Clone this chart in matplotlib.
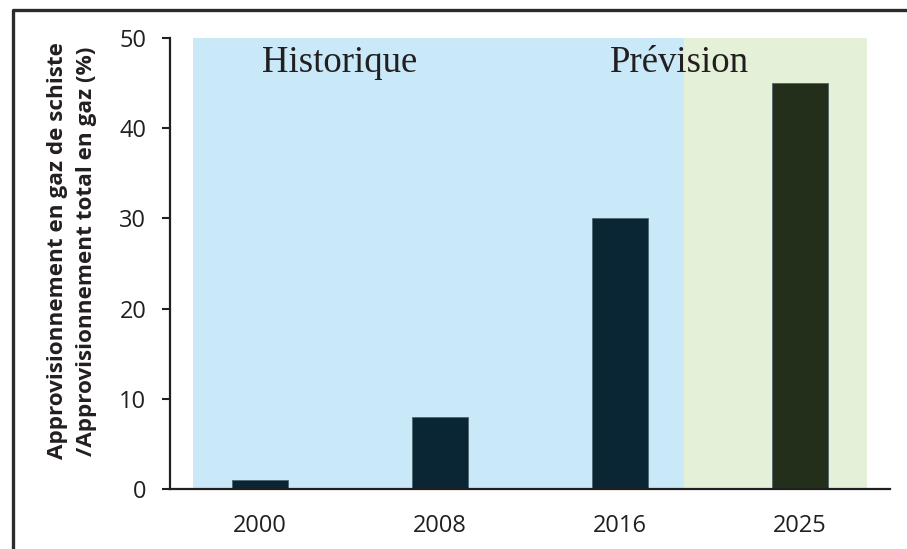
import matplotlib
matplotlib.use("Agg")
import matplotlib.pyplot as plt
from matplotlib.lines import Line2D

categories = ["2000", "2008", "2016", "2025"]
values = [1, 8, 30, 45]
bar_colors = ["#0a2533", "#0a2533", "#0a2533", "#232e1b"]
yticks = [0, 10, 20, 30, 40, 50]
ylabel = "Approvisionnement en gaz de schiste\n/Approvisionnement total en gaz (%)"

W, H = 907, 549
fig = plt.figure(figsize=(W / 100, H / 100), dpi=100)
ax = fig.add_axes([170 / W, 1 - 489 / H, 720 / W, 451 / H])

x = list(range(len(categories)))
ax.set_xlim(-0.5, 3.5)
ax.set_ylim(0, 50)

# shaded regions
ax.axvspan(-0.372, 2.356, ymin=0, ymax=1, color="#c9e9f8", zorder=0, lw=0)
ax.axvspan(2.356, 3.372, ymin=0, ymax=1, color="#e5f0d8", zorder=0, lw=0)

ax.bar(x, values, width=0.31, color=bar_colors, edgecolor="#4d6670",
       linewidth=0.6, zorder=2)

ax.text(0.01, 46.2, "Historique", family="Liberation Serif", fontsize=26.5,
        color="#231f20", ha="left", va="baseline", zorder=3)
ax.text(1.944, 46.2, "Prévision", family="Liberation Serif", fontsize=26.5,
        color="#231f20", ha="left", va="baseline", zorder=3)

ax.set_xticks(x)
ax.set_xticklabels(categories)
ax.set_yticks(yticks)
for lab in ax.get_xticklabels() + ax.get_yticklabels():
    lab.set_family("Open Sans")
    lab.set_fontsize(17)
    lab.set_color("#231f20")
ax.tick_params(axis="x", length=0, pad=18)
ax.tick_params(axis="y", direction="out", length=6, width=1.5, color="#231f20", pad=11)

for s in ["top", "right"]:
    ax.spines[s].set_visible(False)
for s in ["left", "bottom"]:
    ax.spines[s].set_color("#231f20")
    ax.spines[s].set_linewidth(1.6)
    ax.spines[s].set_zorder(4)

ax.set_ylabel(ylabel, family="Open Sans", fontweight="bold", fontsize=16.2,
              color="#231f20", linespacing=1.45)
ax.yaxis.set_label_coords(-0.102, 0.528)
ax.set_facecolor("white")

# outer frame (left + top only, cropped picture)
fig.add_artist(Line2D([12.5 / W, 12.5 / W, 1], [0, 1 - 10 / H, 1 - 10 / H],
                      transform=fig.transFigure, color="#2b2b2b", lw=2.4))

fig.savefig("out.png", dpi=100)
